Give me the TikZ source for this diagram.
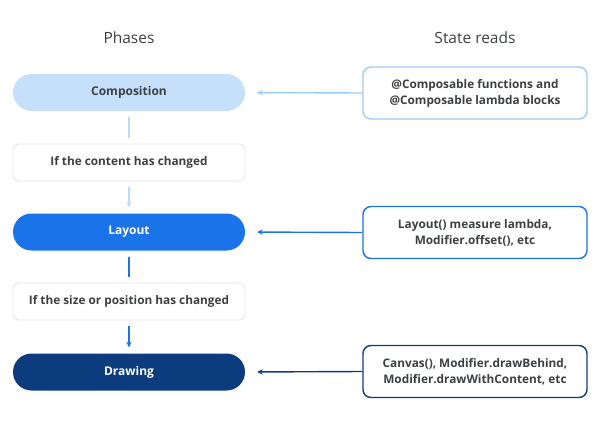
\documentclass[tikz,border=0pt]{standalone}
\usepackage{fontspec}
\setmainfont{Open Sans}
\usetikzlibrary{arrows.meta}
\definecolor{txtgray}{HTML}{3C4043}
\definecolor{paleblue}{HTML}{C6E0FC}
\definecolor{lineblue}{HTML}{9CCBF7}
\definecolor{midblue}{HTML}{1A73E8}
\definecolor{darkblue}{HTML}{0D3C7E}
\definecolor{edgegray}{HTML}{E1E8F0}
\begin{document}
\begin{tikzpicture} [
   x=1pt, y=-1pt, >={Stealth[length=5.5pt,width=5.5pt]},
   phase/.style={rounded corners=18.5pt, minimum width=232pt, minimum height=37pt,
      font=\fontsize{12}{14}\selectfont\bfseries, inner sep=0pt},
   cond/.style={draw=edgegray, line width=0.9pt, fill=white, rounded corners=6pt,
      minimum width=232pt, minimum height=37pt, text=txtgray,
      font=\fontsize{11.8}{14}\selectfont\bfseries, inner sep=0pt},
   reads/.style={fill=white, line width=1.4pt, rounded corners=8pt, minimum width=224pt,
      minimum height=52pt, text=txtgray, align=center,
      font=\fontsize{11.8}{16}\selectfont\bfseries, inner sep=0pt},
   title/.style={text=txtgray, font=\fontsize{15.5}{18}\selectfont},
   gap/.style={shorten <=6pt, shorten >=6pt}
]
   \useasboundingbox (0,0) rectangle (603,424);
   % column titles
   \node (phases) [title] at (129,38) {Phases};
   \node (sreads) [title] at (475,38) {State reads};
   % phases and conditions
   \node (comp) [phase, fill=paleblue, text=txtgray] at (129,92.5) {Composition};
   \node (ifcontent) [cond] at (129,162.5) {If the content has changed};
   \node (lay) [phase, fill=midblue, text=white] at (129,232) {Layout};
   \node (ifsize) [cond] at (129,301.5) {If the size or position has changed};
   \node (draw) [phase, fill=darkblue, text=white] at (129,372) {Drawing};
   % state reads
   \node (rcomp) [reads, draw=lineblue] at (475,93)
      {@Composable functions and\\@Composable lambda blocks};
   \node (rlay) [reads, draw=midblue] at (475,232.5)
      {Layout() measure lambda,\\Modifier.offset(), etc};
   \node (rdraw) [reads, draw=darkblue] at (475,371.5)
      {Canvas(), Modifier.drawBehind,\\Modifier.drawWithContent, etc};
   % connectors
   \path [line width=1.4pt]
      (comp) edge [gap, draw=lineblue!70] (ifcontent)
      (ifcontent) edge [gap, draw=lineblue!70, ->] (lay)
      (lay) edge [gap, draw=midblue] (ifsize)
      (ifsize) edge [gap, draw=midblue, ->] (draw);
   \path [->, line width=1.4pt, shorten >=12pt]
      (rcomp.west) edge [draw=lineblue] (comp.east)
      (rlay.west) edge [draw=midblue] (lay.east)
      (rdraw.west) edge [draw=darkblue] (draw.east);
\end{tikzpicture}
\end{document}
